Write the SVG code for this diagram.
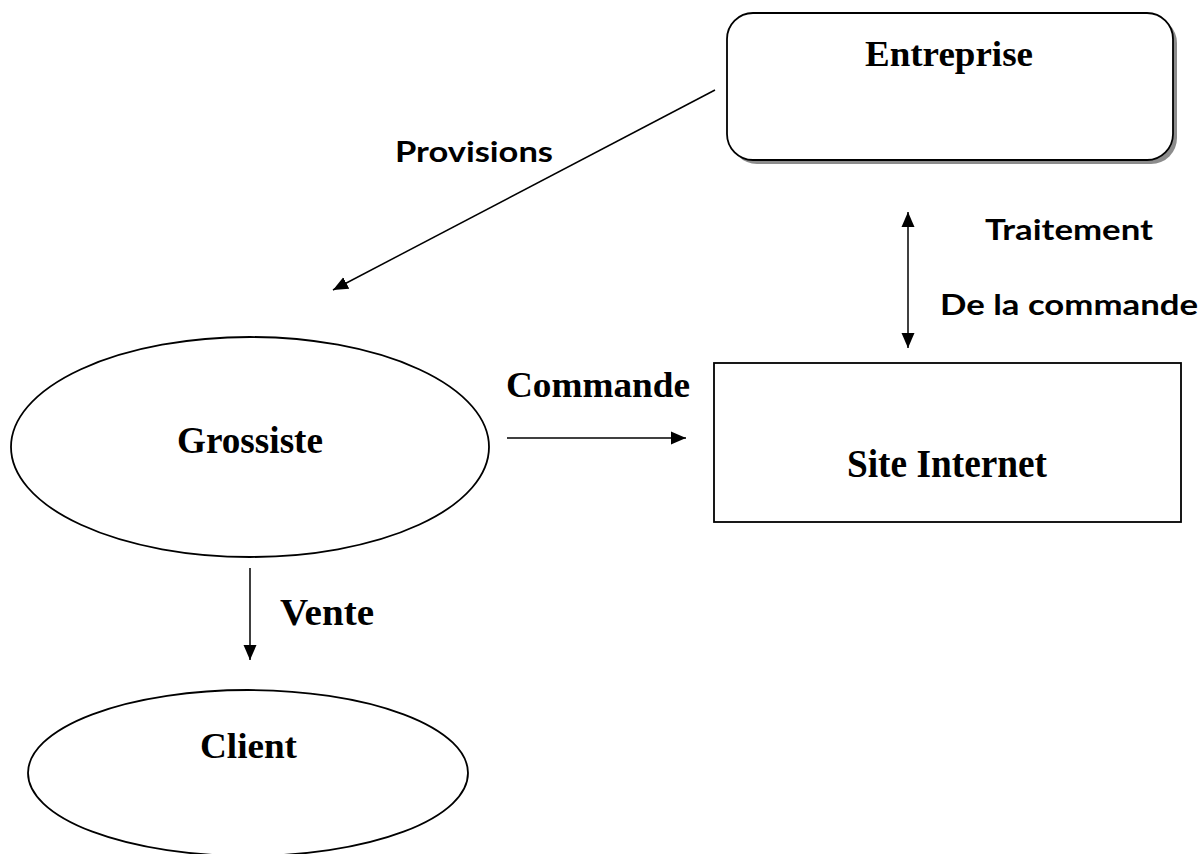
<svg xmlns="http://www.w3.org/2000/svg" width="1203" height="854" viewBox="0 0 1203 854">
  <style>
    .shape { fill: #ffffff; stroke: #000000; stroke-width: 1.8; }
    .shadow { fill: #8c8c8c; stroke: none; }
    .serif { font-family: "Liberation Serif", "Times New Roman", serif; font-weight: bold; fill: #000000; }
    .sans { font-family: Lato, "Open Sans", sans-serif; font-weight: bold; fill: #000000; font-size: 29px; }
    .link { stroke: #000000; stroke-width: 1.5; fill: none; }
  </style>
  <defs>
    <marker id="head" markerUnits="userSpaceOnUse" markerWidth="16" markerHeight="16" viewBox="0 0 16 16" refX="15" refY="8" orient="auto-start-reverse">
      <path d="M0,1.5 L15,8 L0,14.5 Z" fill="#000000"/>
    </marker>
  </defs>

  <rect width="1203" height="854" fill="#ffffff"/>

  <!-- Enterprise: rounded box with drop shadow -->
  <g id="node-entreprise">
    <rect class="shadow" x="731" y="17" width="446" height="147" rx="26"/>
    <rect class="shape" x="727" y="13" width="446" height="147" rx="26"/>
    <text class="serif" x="865" y="66" font-size="36" textLength="168" lengthAdjust="spacingAndGlyphs">Entreprise</text>
  </g>

  <!-- Website -->
  <g id="node-site">
    <rect class="shape" x="714" y="363" width="467" height="159"/>
    <text class="serif" x="847" y="477" font-size="41" textLength="200" lengthAdjust="spacingAndGlyphs">Site Internet</text>
  </g>

  <!-- Wholesaler -->
  <g id="node-grossiste">
    <ellipse class="shape" cx="250" cy="447" rx="239" ry="110"/>
    <text class="serif" x="177" y="453" font-size="38" textLength="146" lengthAdjust="spacingAndGlyphs">Grossiste</text>
  </g>

  <!-- Customer -->
  <g id="node-client">
    <ellipse class="shape" cx="248" cy="773" rx="220" ry="83"/>
    <text class="serif" x="200" y="758" font-size="36" textLength="97" lengthAdjust="spacingAndGlyphs">Client</text>
  </g>

  <!-- Flows between actors -->
  <g id="connectors">
    <line class="link" x1="715" y1="90" x2="333" y2="290" marker-end="url(#head)"/>
    <line class="link" x1="908" y1="212" x2="908" y2="348" marker-start="url(#head)" marker-end="url(#head)"/>
    <line class="link" x1="507" y1="438" x2="686" y2="438" marker-end="url(#head)"/>
    <line class="link" x1="250" y1="568" x2="250" y2="660" marker-end="url(#head)"/>

    <text class="sans" x="395" y="162" textLength="158" lengthAdjust="spacingAndGlyphs">Provisions</text>
    <text class="sans" x="985" y="240" textLength="168" lengthAdjust="spacingAndGlyphs">Traitement</text>
    <text class="sans" x="940" y="315" textLength="258" lengthAdjust="spacingAndGlyphs">De la commande</text>
    <text class="serif" x="506" y="397" font-size="36" textLength="184" lengthAdjust="spacingAndGlyphs">Commande</text>
    <text class="serif" x="280" y="625" font-size="37" textLength="94" lengthAdjust="spacingAndGlyphs">Vente</text>
  </g>
</svg>
